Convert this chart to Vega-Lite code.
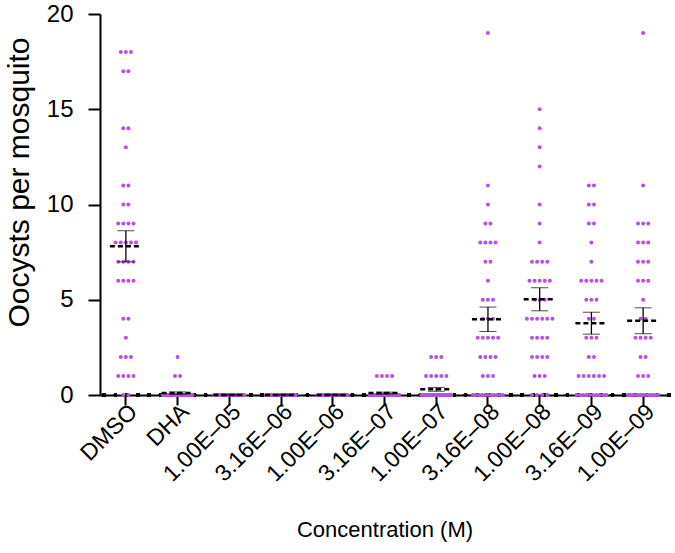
{
"$schema": "https://vega.github.io/schema/vega-lite/v6.json",
"width": 569, "height": 381,
"autosize": {"type": "none"},
"padding": {"left": 100, "top": 14, "right": 6, "bottom": 158},
"config": {"font": "Liberation Sans", "view": {"stroke": null},
  "axis": {"domainColor": "black", "domainWidth": 2, "tickColor": "black", "tickWidth": 2, "labelColor": "black", "titleColor": "black", "grid": false, "labelFontSize": 24, "titleFontSize": 25, "titleFontWeight": "normal"}},
"datasets": {"dots": [
{"conc":"DMSO","oocysts":18},{"conc":"DMSO","oocysts":18},{"conc":"DMSO","oocysts":18},{"conc":"DMSO","oocysts":17},{"conc":"DMSO","oocysts":17},{"conc":"DMSO","oocysts":14},{"conc":"DMSO","oocysts":14},{"conc":"DMSO","oocysts":13},{"conc":"DMSO","oocysts":11},{"conc":"DMSO","oocysts":11},{"conc":"DMSO","oocysts":10},{"conc":"DMSO","oocysts":10},{"conc":"DMSO","oocysts":9},{"conc":"DMSO","oocysts":9},{"conc":"DMSO","oocysts":9},{"conc":"DMSO","oocysts":9},{"conc":"DMSO","oocysts":8},{"conc":"DMSO","oocysts":8},{"conc":"DMSO","oocysts":8},{"conc":"DMSO","oocysts":8},{"conc":"DMSO","oocysts":8},{"conc":"DMSO","oocysts":7},{"conc":"DMSO","oocysts":7},{"conc":"DMSO","oocysts":7},{"conc":"DMSO","oocysts":7},{"conc":"DMSO","oocysts":6},{"conc":"DMSO","oocysts":6},{"conc":"DMSO","oocysts":6},{"conc":"DMSO","oocysts":6},{"conc":"DMSO","oocysts":4},{"conc":"DMSO","oocysts":4},{"conc":"DMSO","oocysts":3},{"conc":"DMSO","oocysts":2},{"conc":"DMSO","oocysts":2},{"conc":"DMSO","oocysts":2},{"conc":"DMSO","oocysts":1},{"conc":"DMSO","oocysts":1},{"conc":"DMSO","oocysts":1},{"conc":"DMSO","oocysts":1},{"conc":"DMSO","oocysts":0},{"conc":"DMSO","oocysts":0},
{"conc":"DHA","oocysts":2},{"conc":"DHA","oocysts":1},{"conc":"DHA","oocysts":1},
{"conc":"DHA","oocysts":0},{"conc":"DHA","oocysts":0},{"conc":"DHA","oocysts":0},{"conc":"DHA","oocysts":0},{"conc":"DHA","oocysts":0},{"conc":"DHA","oocysts":0},{"conc":"DHA","oocysts":0},{"conc":"DHA","oocysts":0},{"conc":"DHA","oocysts":0},{"conc":"DHA","oocysts":0},
{"conc":"DHA","oocysts":0},{"conc":"DHA","oocysts":0},{"conc":"DHA","oocysts":0},{"conc":"DHA","oocysts":0},{"conc":"DHA","oocysts":0},{"conc":"DHA","oocysts":0},{"conc":"DHA","oocysts":0},{"conc":"DHA","oocysts":0},{"conc":"DHA","oocysts":0},{"conc":"DHA","oocysts":0},
{"conc":"DHA","oocysts":0},{"conc":"DHA","oocysts":0},{"conc":"DHA","oocysts":0},{"conc":"DHA","oocysts":0},{"conc":"DHA","oocysts":0},{"conc":"DHA","oocysts":0},{"conc":"DHA","oocysts":0},{"conc":"DHA","oocysts":0},{"conc":"DHA","oocysts":0},{"conc":"DHA","oocysts":0},
{"conc":"DHA","oocysts":0},{"conc":"DHA","oocysts":0},{"conc":"DHA","oocysts":0},{"conc":"DHA","oocysts":0},{"conc":"DHA","oocysts":0},{"conc":"DHA","oocysts":0},{"conc":"DHA","oocysts":0},
{"conc":"1.00E–05","oocysts":0},{"conc":"1.00E–05","oocysts":0},{"conc":"1.00E–05","oocysts":0},{"conc":"1.00E–05","oocysts":0},{"conc":"1.00E–05","oocysts":0},{"conc":"1.00E–05","oocysts":0},{"conc":"1.00E–05","oocysts":0},{"conc":"1.00E–05","oocysts":0},{"conc":"1.00E–05","oocysts":0},{"conc":"1.00E–05","oocysts":0},
{"conc":"1.00E–05","oocysts":0},{"conc":"1.00E–05","oocysts":0},{"conc":"1.00E–05","oocysts":0},{"conc":"1.00E–05","oocysts":0},{"conc":"1.00E–05","oocysts":0},{"conc":"1.00E–05","oocysts":0},{"conc":"1.00E–05","oocysts":0},{"conc":"1.00E–05","oocysts":0},{"conc":"1.00E–05","oocysts":0},{"conc":"1.00E–05","oocysts":0},
{"conc":"1.00E–05","oocysts":0},{"conc":"1.00E–05","oocysts":0},{"conc":"1.00E–05","oocysts":0},{"conc":"1.00E–05","oocysts":0},{"conc":"1.00E–05","oocysts":0},{"conc":"1.00E–05","oocysts":0},{"conc":"1.00E–05","oocysts":0},{"conc":"1.00E–05","oocysts":0},{"conc":"1.00E–05","oocysts":0},{"conc":"1.00E–05","oocysts":0},
{"conc":"1.00E–05","oocysts":0},{"conc":"1.00E–05","oocysts":0},{"conc":"1.00E–05","oocysts":0},{"conc":"1.00E–05","oocysts":0},{"conc":"1.00E–05","oocysts":0},{"conc":"1.00E–05","oocysts":0},{"conc":"1.00E–05","oocysts":0},{"conc":"1.00E–05","oocysts":0},{"conc":"1.00E–05","oocysts":0},{"conc":"1.00E–05","oocysts":0},
{"conc":"3.16E–06","oocysts":0},{"conc":"3.16E–06","oocysts":0},{"conc":"3.16E–06","oocysts":0},{"conc":"3.16E–06","oocysts":0},{"conc":"3.16E–06","oocysts":0},{"conc":"3.16E–06","oocysts":0},{"conc":"3.16E–06","oocysts":0},{"conc":"3.16E–06","oocysts":0},{"conc":"3.16E–06","oocysts":0},{"conc":"3.16E–06","oocysts":0},
{"conc":"3.16E–06","oocysts":0},{"conc":"3.16E–06","oocysts":0},{"conc":"3.16E–06","oocysts":0},{"conc":"3.16E–06","oocysts":0},{"conc":"3.16E–06","oocysts":0},{"conc":"3.16E–06","oocysts":0},{"conc":"3.16E–06","oocysts":0},{"conc":"3.16E–06","oocysts":0},{"conc":"3.16E–06","oocysts":0},{"conc":"3.16E–06","oocysts":0},
{"conc":"3.16E–06","oocysts":0},{"conc":"3.16E–06","oocysts":0},{"conc":"3.16E–06","oocysts":0},{"conc":"3.16E–06","oocysts":0},{"conc":"3.16E–06","oocysts":0},{"conc":"3.16E–06","oocysts":0},{"conc":"3.16E–06","oocysts":0},{"conc":"3.16E–06","oocysts":0},{"conc":"3.16E–06","oocysts":0},{"conc":"3.16E–06","oocysts":0},
{"conc":"3.16E–06","oocysts":0},{"conc":"3.16E–06","oocysts":0},{"conc":"3.16E–06","oocysts":0},{"conc":"3.16E–06","oocysts":0},{"conc":"3.16E–06","oocysts":0},{"conc":"3.16E–06","oocysts":0},{"conc":"3.16E–06","oocysts":0},{"conc":"3.16E–06","oocysts":0},{"conc":"3.16E–06","oocysts":0},{"conc":"3.16E–06","oocysts":0},
{"conc":"1.00E–06","oocysts":0},{"conc":"1.00E–06","oocysts":0},{"conc":"1.00E–06","oocysts":0},{"conc":"1.00E–06","oocysts":0},{"conc":"1.00E–06","oocysts":0},{"conc":"1.00E–06","oocysts":0},{"conc":"1.00E–06","oocysts":0},{"conc":"1.00E–06","oocysts":0},{"conc":"1.00E–06","oocysts":0},{"conc":"1.00E–06","oocysts":0},
{"conc":"1.00E–06","oocysts":0},{"conc":"1.00E–06","oocysts":0},{"conc":"1.00E–06","oocysts":0},{"conc":"1.00E–06","oocysts":0},{"conc":"1.00E–06","oocysts":0},{"conc":"1.00E–06","oocysts":0},{"conc":"1.00E–06","oocysts":0},{"conc":"1.00E–06","oocysts":0},{"conc":"1.00E–06","oocysts":0},{"conc":"1.00E–06","oocysts":0},
{"conc":"1.00E–06","oocysts":0},{"conc":"1.00E–06","oocysts":0},{"conc":"1.00E–06","oocysts":0},{"conc":"1.00E–06","oocysts":0},{"conc":"1.00E–06","oocysts":0},{"conc":"1.00E–06","oocysts":0},{"conc":"1.00E–06","oocysts":0},{"conc":"1.00E–06","oocysts":0},{"conc":"1.00E–06","oocysts":0},{"conc":"1.00E–06","oocysts":0},
{"conc":"1.00E–06","oocysts":0},{"conc":"1.00E–06","oocysts":0},{"conc":"1.00E–06","oocysts":0},{"conc":"1.00E–06","oocysts":0},{"conc":"1.00E–06","oocysts":0},{"conc":"1.00E–06","oocysts":0},{"conc":"1.00E–06","oocysts":0},{"conc":"1.00E–06","oocysts":0},
{"conc":"3.16E–07","oocysts":1},{"conc":"3.16E–07","oocysts":1},{"conc":"3.16E–07","oocysts":1},{"conc":"3.16E–07","oocysts":1},
{"conc":"3.16E–07","oocysts":0},{"conc":"3.16E–07","oocysts":0},{"conc":"3.16E–07","oocysts":0},{"conc":"3.16E–07","oocysts":0},{"conc":"3.16E–07","oocysts":0},{"conc":"3.16E–07","oocysts":0},{"conc":"3.16E–07","oocysts":0},{"conc":"3.16E–07","oocysts":0},{"conc":"3.16E–07","oocysts":0},{"conc":"3.16E–07","oocysts":0},
{"conc":"3.16E–07","oocysts":0},{"conc":"3.16E–07","oocysts":0},{"conc":"3.16E–07","oocysts":0},{"conc":"3.16E–07","oocysts":0},{"conc":"3.16E–07","oocysts":0},{"conc":"3.16E–07","oocysts":0},{"conc":"3.16E–07","oocysts":0},{"conc":"3.16E–07","oocysts":0},{"conc":"3.16E–07","oocysts":0},{"conc":"3.16E–07","oocysts":0},
{"conc":"3.16E–07","oocysts":0},{"conc":"3.16E–07","oocysts":0},{"conc":"3.16E–07","oocysts":0},{"conc":"3.16E–07","oocysts":0},{"conc":"3.16E–07","oocysts":0},{"conc":"3.16E–07","oocysts":0},{"conc":"3.16E–07","oocysts":0},{"conc":"3.16E–07","oocysts":0},{"conc":"3.16E–07","oocysts":0},{"conc":"3.16E–07","oocysts":0},
{"conc":"3.16E–07","oocysts":0},{"conc":"3.16E–07","oocysts":0},{"conc":"3.16E–07","oocysts":0},{"conc":"3.16E–07","oocysts":0},{"conc":"3.16E–07","oocysts":0},{"conc":"3.16E–07","oocysts":0},
{"conc":"1.00E–07","oocysts":2},{"conc":"1.00E–07","oocysts":2},{"conc":"1.00E–07","oocysts":2},{"conc":"1.00E–07","oocysts":1},{"conc":"1.00E–07","oocysts":1},{"conc":"1.00E–07","oocysts":1},{"conc":"1.00E–07","oocysts":1},{"conc":"1.00E–07","oocysts":1},
{"conc":"1.00E–07","oocysts":0},{"conc":"1.00E–07","oocysts":0},{"conc":"1.00E–07","oocysts":0},{"conc":"1.00E–07","oocysts":0},{"conc":"1.00E–07","oocysts":0},{"conc":"1.00E–07","oocysts":0},{"conc":"1.00E–07","oocysts":0},{"conc":"1.00E–07","oocysts":0},{"conc":"1.00E–07","oocysts":0},{"conc":"1.00E–07","oocysts":0},
{"conc":"1.00E–07","oocysts":0},{"conc":"1.00E–07","oocysts":0},{"conc":"1.00E–07","oocysts":0},{"conc":"1.00E–07","oocysts":0},{"conc":"1.00E–07","oocysts":0},{"conc":"1.00E–07","oocysts":0},{"conc":"1.00E–07","oocysts":0},{"conc":"1.00E–07","oocysts":0},{"conc":"1.00E–07","oocysts":0},{"conc":"1.00E–07","oocysts":0},
{"conc":"1.00E–07","oocysts":0},{"conc":"1.00E–07","oocysts":0},{"conc":"1.00E–07","oocysts":0},{"conc":"1.00E–07","oocysts":0},{"conc":"1.00E–07","oocysts":0},{"conc":"1.00E–07","oocysts":0},{"conc":"1.00E–07","oocysts":0},{"conc":"1.00E–07","oocysts":0},{"conc":"1.00E–07","oocysts":0},
{"conc":"3.16E–08","oocysts":19},{"conc":"3.16E–08","oocysts":11},{"conc":"3.16E–08","oocysts":10},{"conc":"3.16E–08","oocysts":9},{"conc":"3.16E–08","oocysts":9},{"conc":"3.16E–08","oocysts":8},{"conc":"3.16E–08","oocysts":8},{"conc":"3.16E–08","oocysts":8},{"conc":"3.16E–08","oocysts":8},{"conc":"3.16E–08","oocysts":7},{"conc":"3.16E–08","oocysts":7},{"conc":"3.16E–08","oocysts":6},{"conc":"3.16E–08","oocysts":5},{"conc":"3.16E–08","oocysts":5},{"conc":"3.16E–08","oocysts":5},{"conc":"3.16E–08","oocysts":4},{"conc":"3.16E–08","oocysts":4},{"conc":"3.16E–08","oocysts":4},{"conc":"3.16E–08","oocysts":3},{"conc":"3.16E–08","oocysts":3},{"conc":"3.16E–08","oocysts":3},{"conc":"3.16E–08","oocysts":3},{"conc":"3.16E–08","oocysts":3},{"conc":"3.16E–08","oocysts":2},{"conc":"3.16E–08","oocysts":2},{"conc":"3.16E–08","oocysts":2},{"conc":"3.16E–08","oocysts":2},{"conc":"3.16E–08","oocysts":1},{"conc":"3.16E–08","oocysts":1},{"conc":"3.16E–08","oocysts":1},
{"conc":"3.16E–08","oocysts":0},{"conc":"3.16E–08","oocysts":0},{"conc":"3.16E–08","oocysts":0},{"conc":"3.16E–08","oocysts":0},{"conc":"3.16E–08","oocysts":0},{"conc":"3.16E–08","oocysts":0},{"conc":"3.16E–08","oocysts":0},{"conc":"3.16E–08","oocysts":0},{"conc":"3.16E–08","oocysts":0},{"conc":"3.16E–08","oocysts":0},{"conc":"3.16E–08","oocysts":0},
{"conc":"1.00E–08","oocysts":15},{"conc":"1.00E–08","oocysts":14},{"conc":"1.00E–08","oocysts":13},{"conc":"1.00E–08","oocysts":12},{"conc":"1.00E–08","oocysts":10},{"conc":"1.00E–08","oocysts":9},{"conc":"1.00E–08","oocysts":8},{"conc":"1.00E–08","oocysts":7},{"conc":"1.00E–08","oocysts":7},{"conc":"1.00E–08","oocysts":7},{"conc":"1.00E–08","oocysts":7},{"conc":"1.00E–08","oocysts":6},{"conc":"1.00E–08","oocysts":6},{"conc":"1.00E–08","oocysts":6},{"conc":"1.00E–08","oocysts":6},{"conc":"1.00E–08","oocysts":6},{"conc":"1.00E–08","oocysts":5},{"conc":"1.00E–08","oocysts":5},{"conc":"1.00E–08","oocysts":5},{"conc":"1.00E–08","oocysts":4},{"conc":"1.00E–08","oocysts":4},{"conc":"1.00E–08","oocysts":4},{"conc":"1.00E–08","oocysts":4},{"conc":"1.00E–08","oocysts":4},{"conc":"1.00E–08","oocysts":4},{"conc":"1.00E–08","oocysts":3},{"conc":"1.00E–08","oocysts":3},{"conc":"1.00E–08","oocysts":3},{"conc":"1.00E–08","oocysts":3},{"conc":"1.00E–08","oocysts":2},{"conc":"1.00E–08","oocysts":2},{"conc":"1.00E–08","oocysts":2},{"conc":"1.00E–08","oocysts":2},{"conc":"1.00E–08","oocysts":1},{"conc":"1.00E–08","oocysts":1},{"conc":"1.00E–08","oocysts":1},
{"conc":"1.00E–08","oocysts":0},{"conc":"1.00E–08","oocysts":0},{"conc":"1.00E–08","oocysts":0},{"conc":"1.00E–08","oocysts":0},
{"conc":"3.16E–09","oocysts":11},{"conc":"3.16E–09","oocysts":11},{"conc":"3.16E–09","oocysts":10},{"conc":"3.16E–09","oocysts":10},{"conc":"3.16E–09","oocysts":9},{"conc":"3.16E–09","oocysts":9},{"conc":"3.16E–09","oocysts":8},{"conc":"3.16E–09","oocysts":7},{"conc":"3.16E–09","oocysts":6},{"conc":"3.16E–09","oocysts":6},{"conc":"3.16E–09","oocysts":6},{"conc":"3.16E–09","oocysts":6},{"conc":"3.16E–09","oocysts":6},{"conc":"3.16E–09","oocysts":5},{"conc":"3.16E–09","oocysts":5},{"conc":"3.16E–09","oocysts":5},{"conc":"3.16E–09","oocysts":4},{"conc":"3.16E–09","oocysts":4},{"conc":"3.16E–09","oocysts":3},{"conc":"3.16E–09","oocysts":3},{"conc":"3.16E–09","oocysts":3},{"conc":"3.16E–09","oocysts":2},{"conc":"3.16E–09","oocysts":2},{"conc":"3.16E–09","oocysts":1},{"conc":"3.16E–09","oocysts":1},{"conc":"3.16E–09","oocysts":1},{"conc":"3.16E–09","oocysts":1},{"conc":"3.16E–09","oocysts":1},{"conc":"3.16E–09","oocysts":1},
{"conc":"3.16E–09","oocysts":0},{"conc":"3.16E–09","oocysts":0},{"conc":"3.16E–09","oocysts":0},{"conc":"3.16E–09","oocysts":0},{"conc":"3.16E–09","oocysts":0},{"conc":"3.16E–09","oocysts":0},{"conc":"3.16E–09","oocysts":0},{"conc":"3.16E–09","oocysts":0},{"conc":"3.16E–09","oocysts":0},{"conc":"3.16E–09","oocysts":0},
{"conc":"1.00E–09","oocysts":19},{"conc":"1.00E–09","oocysts":11},{"conc":"1.00E–09","oocysts":9},{"conc":"1.00E–09","oocysts":9},{"conc":"1.00E–09","oocysts":9},{"conc":"1.00E–09","oocysts":8},{"conc":"1.00E–09","oocysts":8},{"conc":"1.00E–09","oocysts":8},{"conc":"1.00E–09","oocysts":7},{"conc":"1.00E–09","oocysts":7},{"conc":"1.00E–09","oocysts":7},{"conc":"1.00E–09","oocysts":6},{"conc":"1.00E–09","oocysts":6},{"conc":"1.00E–09","oocysts":6},{"conc":"1.00E–09","oocysts":5},{"conc":"1.00E–09","oocysts":4},{"conc":"1.00E–09","oocysts":4},{"conc":"1.00E–09","oocysts":3},{"conc":"1.00E–09","oocysts":3},{"conc":"1.00E–09","oocysts":3},{"conc":"1.00E–09","oocysts":3},{"conc":"1.00E–09","oocysts":2},{"conc":"1.00E–09","oocysts":2},{"conc":"1.00E–09","oocysts":1},{"conc":"1.00E–09","oocysts":1},{"conc":"1.00E–09","oocysts":1},
{"conc":"1.00E–09","oocysts":0},{"conc":"1.00E–09","oocysts":0},{"conc":"1.00E–09","oocysts":0},{"conc":"1.00E–09","oocysts":0},{"conc":"1.00E–09","oocysts":0},{"conc":"1.00E–09","oocysts":0},{"conc":"1.00E–09","oocysts":0},{"conc":"1.00E–09","oocysts":0},{"conc":"1.00E–09","oocysts":0},{"conc":"1.00E–09","oocysts":0},{"conc":"1.00E–09","oocysts":0},{"conc":"1.00E–09","oocysts":0},{"conc":"1.00E–09","oocysts":0}
]},
"data": {"name": "dots"},
"transform": [
  {"window": [{"op": "row_number", "as": "r"}], "groupby": ["conc", "oocysts"]},
  {"joinaggregate": [{"op": "count", "as": "k"}], "groupby": ["conc", "oocysts"]},
  {"calculate": "(datum.r - 1 - (datum.k - 1) / 2) * min(5.1, 30 / max(datum.k - 1, 1))", "as": "off"}
],
"layer": [
  {"mark": {"type": "rule", "color": "black", "strokeWidth": 3.5, "strokeCap": "round", "strokeDash": [0, 11.3]},
   "encoding": {"y": {"datum": 0, "type": "quantitative"}}},
  {"mark": {"type": "circle", "size": 16, "color": "#B552DE", "opacity": 1},
   "encoding": {
     "x": {"field": "conc", "type": "nominal", "sort": null,
       "scale": {"domain": ["DMSO","DHA","1.00E–05","3.16E–06","1.00E–06","3.16E–07","1.00E–07","3.16E–08","1.00E–08","3.16E–09","1.00E–09"], "paddingInner": 0, "paddingOuter": 0},
       "axis": {"title": "Concentration (M)", "labelAngle": -45, "labelFontSize": 23, "tickSize": 10, "labelPadding": -5, "titlePadding": 34, "titleFontSize": 22}},
     "xOffset": {"field": "off", "type": "quantitative", "scale": {"domain": [-25.85, 25.85], "range": [0, 51.7]}},
     "y": {"field": "oocysts", "type": "quantitative", "title": "Oocysts per mosquito",
       "scale": {"domain": [0, 20], "nice": false},
       "axis": {"values": [0, 5, 10, 15, 20], "tickSize": 12, "labelPadding": 15, "titlePadding": 12, "titleY": 168, "titleFontSize": 30}}
   }},
  {"mark": {"type": "rule", "color": "black", "strokeWidth": 2.5, "strokeDash": [5, 3], "xOffset": -16, "x2Offset": 16},
   "encoding": {
     "x": {"field": "conc", "type": "nominal"},
     "x2": {"field": "conc"},
     "y": {"aggregate": "mean", "field": "oocysts", "type": "quantitative", "title": "Oocysts per mosquito"}
   }},
  {"mark": {"type": "errorbar", "extent": "stderr", "ticks": {"size": 17, "color": "black", "strokeWidth": 1.3}, "rule": {"color": "black", "strokeWidth": 1.3}},
   "encoding": {
     "x": {"field": "conc", "type": "nominal"},
     "y": {"field": "oocysts", "type": "quantitative", "title": "Oocysts per mosquito"}
   }}
]
}
